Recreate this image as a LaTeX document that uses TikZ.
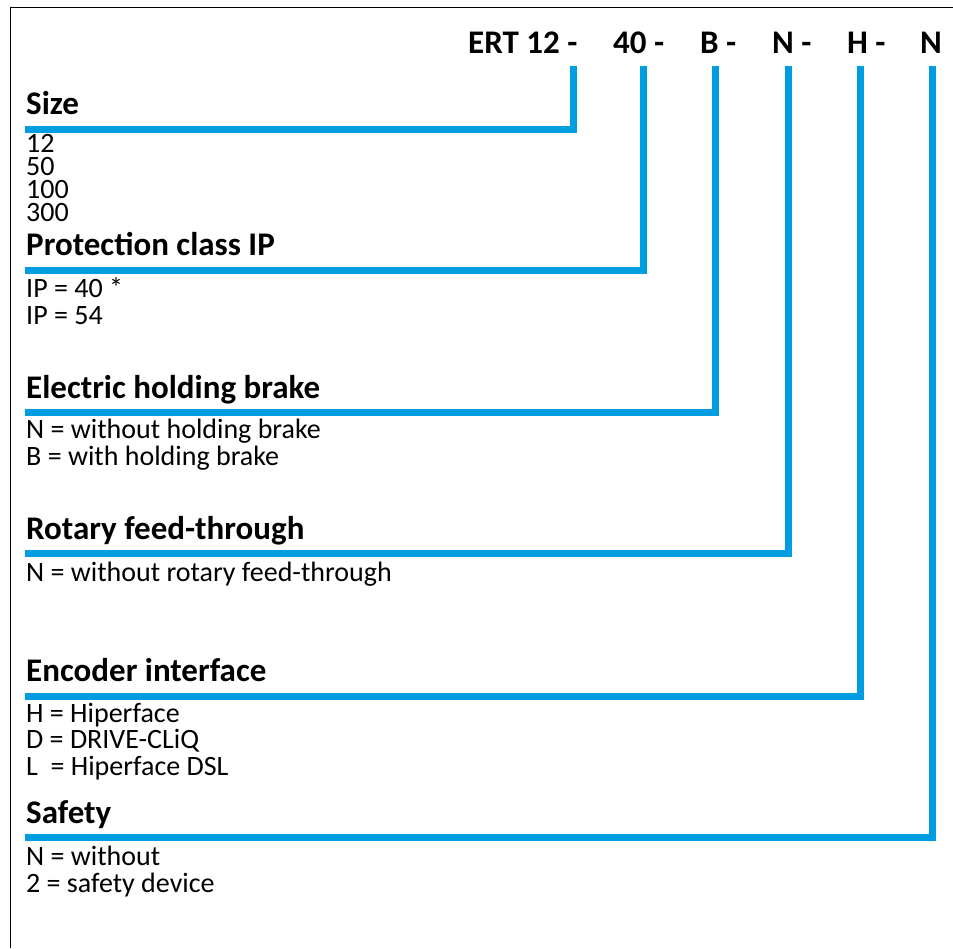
\documentclass[tikz,border=0pt]{standalone}
\usepackage{fontspec}
\setmainfont{Carlito}
\usetikzlibrary{positioning}
\definecolor{codeblue}{RGB}{0,158,224}

\begin{document}
\begin{tikzpicture}[
x=1pt, y=-1pt,
code/.style={
  anchor=base west,
  inner sep=0pt,
  font=\fontsize{33}{33}\selectfont\bfseries
  },
head/.style={
  anchor=base west,
  inner sep=0pt,
  font=\fontsize{33}{33}\selectfont\bfseries
  },
item/.style={
  anchor=base west,
  inner sep=0pt,
  font=\fontsize{28}{28}\selectfont
  },
codeline/.style={
  draw=codeblue,
  line width=7pt,
  line join=miter
  },
>=latex]
\useasboundingbox (0,0) rectangle (953,948);

% frame
\draw[line width=1.5pt] (953,7.5) -- (10.5,7.5) -- (10.5,948);

% type code
\node[code] (ert) at (468,53) {ERT 12 -};
\node[code] (ip)  at (613,53) {40 -};
\node[code] (brk) at (700,53) {B -};
\node[code] (rot) at (772,53) {N -};
\node[code] (enc) at (847,53) {H -};
\node[code] (saf) at (920,53) {N};

% lines from the code down to the headings
\foreach \x/\y [count=\i] in {573/129,643.5/270,715.5/412,788/553.5,860/696,932/837}
{
  \coordinate (top-\i) at (\x,66);
  \coordinate (end-\i) at (25,\y);
  \draw[codeline] (top-\i) |- (end-\i);
}

% headings
\node[head] (size-h) at (26,114)   {Size};
\node[head] (ip-h)   at (26,255)   {Protection class IP};
\node[head] (brk-h)  at (26,398)   {Electric holding brake};
\node[head] (rot-h)  at (26,539.5) {Rotary feed-through};
\node[head] (enc-h)  at (26,681)   {Encoder interface};
\node[head] (saf-h)  at (26,823)   {Safety};

% options
\foreach \t [count=\k] in {12,50,100,300}
  \node[item] (size-\k) at (26,152+23*\k-23) {\t};
\foreach \t [count=\k] in {IP = 40 *,IP = 54}
  \node[item] (ip-\k) at (26,297+27*\k-27) {\t};
\foreach \t [count=\k] in {N = without holding brake,B = with holding brake}
  \node[item] (brk-\k) at (26,438+27*\k-27) {\t};
\node[item] (rot-1) at (26,581) {N = without rotary feed-through};
\foreach \t [count=\k] in {H = Hiperface,D = DRIVE-CLiQ,L\ \ = Hiperface DSL}
  \node[item] (enc-\k) at (26,722+26.5*\k-26.5) {\t};
\foreach \t [count=\k] in {N = without,2 = safety device}
  \node[item] (saf-\k) at (26,865+27*\k-27) {\t};

\end{tikzpicture}
\end{document}
